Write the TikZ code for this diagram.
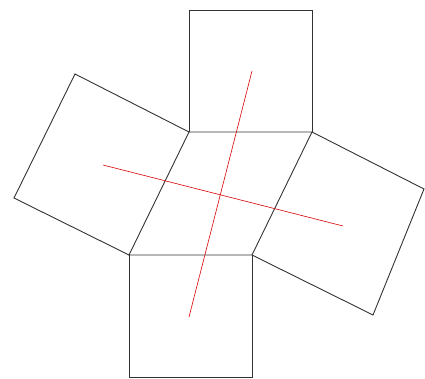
\documentclass[tikz,border=0pt]{standalone}
\begin{document}
\begin{tikzpicture}[x=1pt,y=-1pt,
  edge/.style={draw=black!80,line width=0.9pt,line join=miter},
  redline/.style={draw=red!85!black,line width=0.6pt}]
\useasboundingbox (0,0) rectangle (425,379);
% parallelogram corners
\coordinate (A) at (189,132);
\coordinate (B) at (312,132);
\coordinate (C) at (252,255);
\coordinate (D) at (129,255);
% outer corners
\coordinate (T1) at (189,10);
\coordinate (T2) at (312,10);
\coordinate (L1) at (75,74);
\coordinate (L2) at (14,198);
\coordinate (R1) at (424,189);
\coordinate (R2) at (373,315);
\coordinate (B1) at (252,377);
\coordinate (B2) at (129,377);
% centres
\coordinate (ct) at (252,71);
\coordinate (cb) at (189,317);
\coordinate (cl) at (103,165);
\coordinate (cr) at (343,226);
\path[edge] (A) -- (B) -- (C) -- (D) -- cycle;
\path[edge] (A) -- (T1) -- (T2) -- (B);
\path[edge] (A) -- (L1) -- (L2) -- (D);
\path[edge] (B) -- (R1) -- (R2) -- (C);
\path[edge] (C) -- (B1) -- (B2) -- (D);
\path[redline] (ct) -- (cb);
\path[redline] (cl) -- (cr);
\end{tikzpicture}
\end{document}
